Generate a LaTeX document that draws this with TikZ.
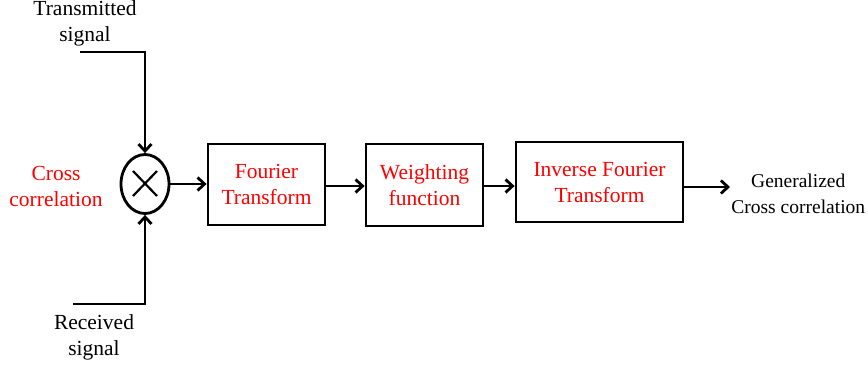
\documentclass[tikz,border=0pt]{standalone}
\usepackage{fontspec}
\setmainfont{Liberation Serif}
\usepackage{xcolor}
\usetikzlibrary{shapes,arrows,positioning,calc,arrows.meta}

\begin{document}
\begin{tikzpicture}[
    x=1pt, y=-1pt,
    font=\fontsize{21.5}{26}\selectfont,
    line width=2.8pt,
    arr/.style={-{Straight Barb[length=7pt,width=13pt,line width=2.8pt]}},
    block/.style={draw, rectangle, align=center, text=red},
    label/.style={align=center, inner sep=0pt}]

    \useasboundingbox (0,0) rectangle (868,367);

    % multiplier
    \node[draw, ellipse, minimum width=48pt, minimum height=59pt, inner sep=0pt] (mix) at (145,184) {};
    \draw[line width=2.2pt] ($(mix.center)+(-12,-13)$) -- ($(mix.center)+(12,12)$);
    \draw[line width=2.2pt] ($(mix.center)+(-12,12)$) -- ($(mix.center)+(12,-13)$);

    % blocks
    \node[block, minimum width=117pt, minimum height=81pt] (ft) at (266.5,184.5) {Fourier\\Transform};
    \node[block, minimum width=117pt, minimum height=82pt] (wf) at (424.5,185) {Weighting\\function};
    \node[block, minimum width=167pt, minimum height=80pt] (ift) at (599.5,182) {Inverse Fourier\\Transform};

    % labels
    \node[label] (tx) at (85,23) {Transmitted\\signal};
    \node[label] (rx) at (94,337) {Received\\signal};
    \node[label, text=red] (cc) at (56,186) {Cross\\correlation};
    \node[label, anchor=west, font=\fontsize{19.5}{26}\selectfont] (gcc) at (730,194) {Generalized\\Cross correlation};

    \coordinate (txin) at (80,52);
    \coordinate (rxin) at (73,304);

    % connections
    \draw[arr] (txin) -| (mix.north);
    \draw[arr] (rxin) -| (mix.south);
    \draw[arr] (mix.east) -- (ft.west |- mix.east);
    \draw[arr] (ft.east |- 0,186) -- (wf.west |- 0,186);
    \draw[arr] (wf.east |- 0,186) -- (ift.west |- 0,186);
    \draw[arr] (ift.east |- 0,187) -- (gcc.west |- 0,187);
\end{tikzpicture}
\end{document}
